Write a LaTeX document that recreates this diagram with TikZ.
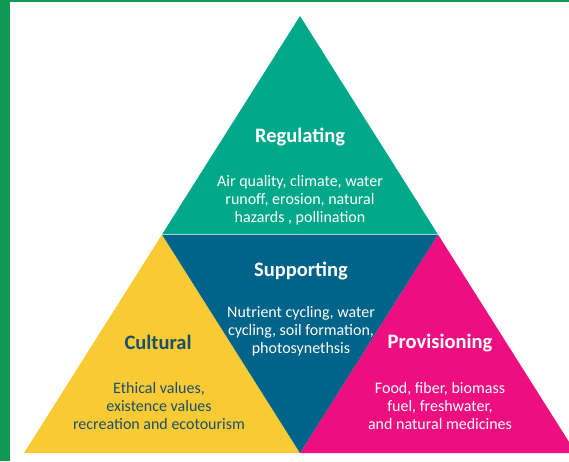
\documentclass[tikz,border=0pt]{standalone}
\usepackage{fontspec}
\setmainfont{Carlito}
\usepackage{tikz}
\usetikzlibrary{calc}

\definecolor{framegreen}{RGB}{14,154,82}
\definecolor{regteal}{RGB}{0,168,138}
\definecolor{supblue}{RGB}{0,99,138}
\definecolor{culyellow}{RGB}{248,202,52}
\definecolor{provpink}{RGB}{238,14,128}
\definecolor{cultext}{RGB}{28,78,108}

\tikzset{
  heading/.style={font=\fontsize{20.5}{24}\selectfont\bfseries},
  body/.style={font=\fontsize{16}{18}\selectfont,align=center},
}

\begin{document}
\begin{tikzpicture}[x=1pt,y=-1pt]
  % Constants
  \pgfmathsetmacro\w{569}
  \pgfmathsetmacro\h{461}
  % Boundary
  \path[use as bounding box] (0,0) rectangle (\w,\h);
  \clip (0,0) rectangle (\w,\h);
  \fill[white] (0,0) rectangle (\w,\h);
  % Frame
  \fill[framegreen] (0,0) rectangle (10,\h);
  \fill[framegreen] (0,0) rectangle (\w,2);
  % Corners
  \coordinate (apex) at (300,16);
  \coordinate (left) at (24,453);
  \coordinate (right) at (576,453);
  \coordinate (midl) at ($(apex)!0.5!(left)$);
  \coordinate (midr) at ($(apex)!0.5!(right)$);
  \coordinate (midb) at ($(left)!0.5!(right)$);
  % Pyramid
  \fill[regteal] (apex) -- (midl) -- (midr) -- cycle;
  \fill[culyellow] (midl) -- (left) -- (midb) -- cycle;
  \fill[provpink] (midr) -- (midb) -- (right) -- cycle;
  \fill[supblue] (midl) -- (midr) -- (midb) -- cycle;
  \draw[white,opacity=0.5,line width=0.6pt] (midl) -- (midr);
  % Regulating
  \node[heading,text=white] (regulating) at (300,137) {Regulating};
  \node[body,text=white] (regtext) at (300,200) {Air quality, climate, water\\runoff, erosion, natural\\hazards , pollination};
  % Supporting
  \node[heading,text=white] (supporting) at (301,271) {Supporting};
  \node[body,text=white] (suptext) at (301,331) {Nutrient cycling, water\\cycling, soil formation,\\photosynethsis};
  % Cultural
  \node[heading,text=cultext] (cultural) at (158,342) {Cultural};
  \node[body,text=cultext] (cultext) at (159,406) {Ethical values,\\existence values\\recreation and ecotourism};
  % Provisioning
  \node[heading,text=white] (provisioning) at (440,343) {Provisioning};
  \node[body,text=white] (provtext) at (440,406) {Food, fiber, biomass\\fuel, freshwater,\\and natural medicines};
\end{tikzpicture}
\end{document}
